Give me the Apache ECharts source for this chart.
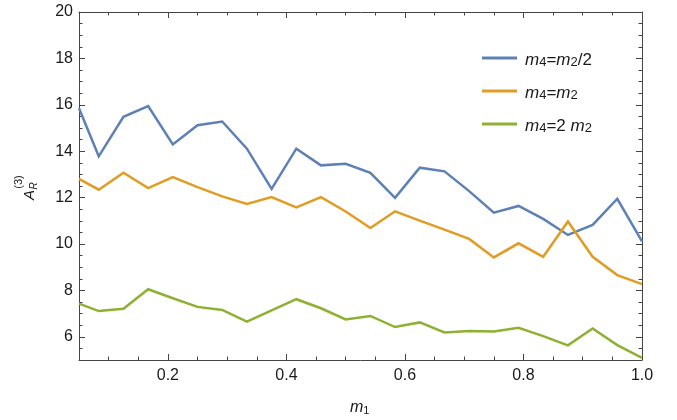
<!DOCTYPE html>
<html>
<head>
<meta charset="utf-8">
<script src="https://cdn.jsdelivr.net/npm/echarts@6/dist/echarts.min.js"></script>
<style>
  html, body { margin: 0; padding: 0; background: #fff; }
  #chart { width: 677px; height: 420px; }
</style>
</head>
<body>
<div id="chart"></div>
<script>
// m1 sample points and the three A_R^(3) curves
const m1Values = [0.05, 0.0833, 0.125, 0.1667, 0.2083, 0.25, 0.2917, 0.3333, 0.375, 0.4167, 0.4583, 0.5,
                  0.5417, 0.5833, 0.625, 0.6667, 0.7083, 0.75, 0.7917, 0.8333, 0.875, 0.9167, 0.9583, 1.0];
const halfM2   = [15.85, 13.78, 15.48, 15.94, 14.29, 15.12, 15.28, 14.11, 12.38, 14.11, 13.39, 13.46,
                  13.07, 11.99, 13.29, 13.13, 12.28, 11.35, 11.64, 11.08, 10.39, 10.82, 11.95, 10.11];
const equalM2  = [12.81, 12.34, 13.07, 12.41, 12.88, 12.45, 12.05, 11.73, 12.02, 11.58, 12.02, 11.40,
                  10.69, 11.41, 11.01, 10.62, 10.22, 9.42, 10.03, 9.45, 10.97, 9.45, 8.66, 8.27];
const doubleM2 = [7.43, 7.11, 7.21, 8.05, 7.66, 7.29, 7.16, 6.65, 7.14, 7.62, 7.23, 6.75,
                  6.90, 6.42, 6.62, 6.19, 6.25, 6.23, 6.39, 6.03, 5.63, 6.36, 5.64, 5.09];

const seriesNames = ['m4=m2/2', 'm4=m2', 'm4=2 m2'];
const xTickLabels = ['0.2', '0.4', '0.6', '0.8', '1.0'];
const yTickLabels = ['6', '8', '10', '12', '14', '16', '18', '20'];

const FONT = '"Liberation Sans", Arial, sans-serif';
const FRAME = '#444';
const TEXT = '#1a1a1a';
const colors = ['#5E81B5', '#E19C24', '#8FB032'];

const xMajor = xTickLabels.map(Number);
const yMajor = yTickLabels.map(Number);

function pairs(ys) { return m1Values.map((x, i) => [x, ys[i]]); }

// Frame axes: a major axis (long ticks, labels) and a minor axis (short ticks) per side
function xAxisPair(position, withLabels) {
  return [
    {
      type: 'value', position, min: 0.05, max: 1.0,
      axisLine: { show: true, onZero: false, lineStyle: { color: FRAME, width: 1 } },
      axisTick: { show: true, inside: true, length: 6, customValues: xMajor, lineStyle: { color: FRAME, width: 1 } },
      axisLabel: { show: withLabels, customValues: xMajor, formatter: v => Number(v).toFixed(1),
                   margin: 8, color: TEXT, fontSize: 16, fontFamily: FONT },
      splitLine: { show: false }
    },
    {
      type: 'value', position, min: 0.05, max: 1.0, interval: 0.05,
      axisLine: { show: false, onZero: false },
      axisTick: { show: true, inside: true, length: 3.5, lineStyle: { color: FRAME, width: 1 } },
      axisLabel: { show: false },
      splitLine: { show: false }
    }
  ];
}
function yAxisPair(position, withLabels) {
  return [
    {
      type: 'value', position, min: 5, max: 20,
      axisLine: { show: true, onZero: false, lineStyle: { color: FRAME, width: 1 } },
      axisTick: { show: true, inside: true, length: 6, customValues: yMajor, lineStyle: { color: FRAME, width: 1 } },
      axisLabel: { show: withLabels, customValues: yMajor, formatter: v => String(Math.round(v)),
                   margin: 6, color: TEXT, fontSize: 16, fontFamily: FONT },
      splitLine: { show: false }
    },
    {
      type: 'value', position, min: 5, max: 20, interval: 0.5,
      axisLine: { show: false, onZero: false },
      axisTick: { show: true, inside: true, length: 3.5, lineStyle: { color: FRAME, width: 1 } },
      axisLabel: { show: false },
      splitLine: { show: false }
    }
  ];
}

const legendRich = {
  i: { fontFamily: FONT, fontStyle: 'italic', fontSize: 17, lineHeight: 22, verticalAlign: 'bottom', color: TEXT },
  n: { fontFamily: FONT, fontSize: 17, lineHeight: 22, verticalAlign: 'bottom', color: TEXT },
  s: { fontFamily: FONT, fontSize: 13, lineHeight: 13, verticalAlign: 'bottom', color: TEXT }
};
const legendText = {
  'm4=m2/2': '{i|m}{s|4}{n|=}{i|m}{s|2}{n|/2}',
  'm4=m2':   '{i|m}{s|4}{n|=}{i|m}{s|2}',
  'm4=2 m2': '{i|m}{s|4}{n|=2 }{i|m}{s|2}'
};

const chart = echarts.init(document.getElementById('chart'), null, { renderer: 'canvas' });

chart.setOption({
  animation: false,
  backgroundColor: '#fff',
  grid: { left: 79, top: 12, width: 563, height: 348 },
  xAxis: [...xAxisPair('bottom', true), ...xAxisPair('top', false)],
  yAxis: [...yAxisPair('left', true), ...yAxisPair('right', false)],
  legend: {
    orient: 'vertical', left: 477, top: 47,
    icon: 'rect', itemWidth: 35, itemHeight: 3, itemGap: 16,
    data: seriesNames,
    formatter: name => legendText[name],
    textStyle: { fontSize: 17, fontFamily: FONT, color: TEXT, padding: [0, 0, 0, 3], rich: legendRich }
  },
  graphic: [
    {
      // vertical axis title: A with (3) superscript and R subscript
      type: 'group', x: 37, y: 195, rotation: Math.PI / 2,
      children: [
        { type: 'text', x: 0, y: 0, style: { text: 'A', fontFamily: FONT, fontStyle: 'italic', fontSize: 15,
            fill: TEXT, align: 'center', verticalAlign: 'bottom' } },
        { type: 'text', x: 13, y: -13, style: { text: '(3)', fontFamily: FONT, fontSize: 11,
            fill: TEXT, align: 'center', verticalAlign: 'bottom' } },
        { type: 'text', x: 9, y: 2, style: { text: 'R', fontFamily: FONT, fontStyle: 'italic', fontSize: 10,
            fill: TEXT, align: 'center', verticalAlign: 'bottom' } }
      ]
    },
    {
      type: 'text', x: 350, y: 398,
      style: {
        text: '{i|m}{s|1}',
        rich: {
          i: { fontFamily: FONT, fontStyle: 'italic', fontSize: 16, lineHeight: 18, verticalAlign: 'bottom', fill: TEXT },
          s: { fontFamily: FONT, fontSize: 11, lineHeight: 11, verticalAlign: 'bottom', fill: TEXT }
        }
      }
    }
  ],
  series: [halfM2, equalM2, doubleM2].map((ys, k) => ({
    name: seriesNames[k],
    type: 'line',
    xAxisIndex: 0, yAxisIndex: 0,
    data: pairs(ys),
    symbol: 'none',
    clip: true,
    color: colors[k],
    itemStyle: { color: colors[k] },
    lineStyle: { color: colors[k], width: 2.5, join: 'miter' }
  }))
});
</script>
</body>
</html>
